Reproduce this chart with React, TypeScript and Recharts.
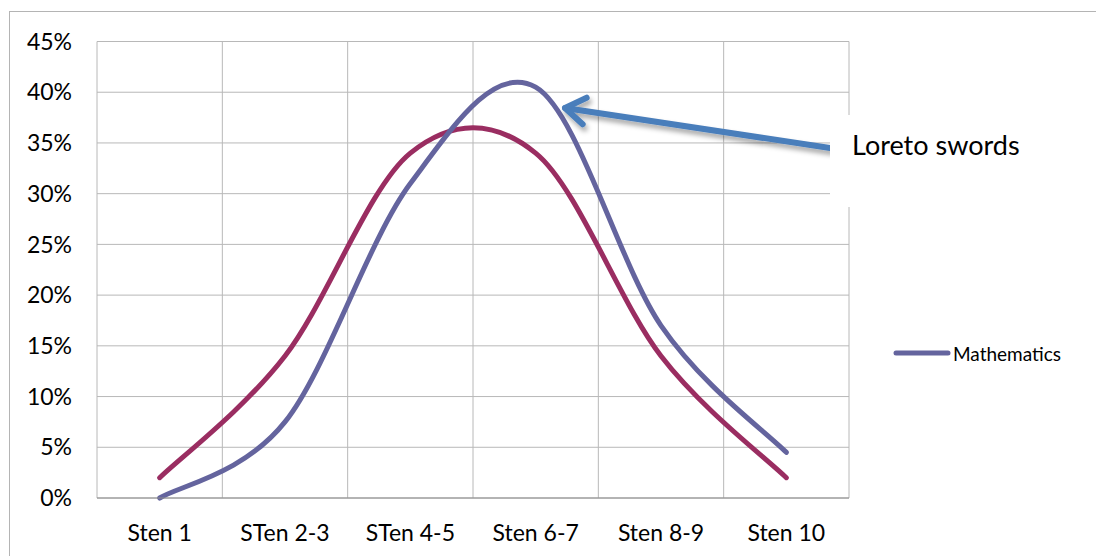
import { LineChart, Line, XAxis, YAxis, CartesianGrid, Legend } from "recharts";

// --- data ---
const categories = ["Sten 1", "STen 2-3", "STen 4-5", "Sten 6-7", "Sten 8-9", "Sten 10"];
const normValues = [2, 14, 34, 34, 14, 2];
const mathValues = [0, 7.5, 31, 40.5, 17, 4.5];
const yTicks = [0, 5, 10, 15, 20, 25, 30, 35, 40, 45];

const data = categories.map((c, i) => ({ sten: c, norm: normValues[i], math: mathValues[i] }));

const FONT = "Lato, 'Open Sans', sans-serif";
const RED = "#9a2d61";
const PURPLE = "#64649e";
const GRID = "#b8b8b8";

// excel-ish smoothing: bezier with control points at 1/6 of neighbour spread
function excelCurve(context: any) {
  let pts: number[][] = [];
  return {
    areaStart() {},
    areaEnd() {},
    lineStart() {
      pts = [];
    },
    point(x: number, y: number) {
      pts.push([+x, +y]);
    },
    lineEnd() {
      const n = pts.length;
      if (!n) return;
      context.moveTo(pts[0][0], pts[0][1]);
      for (let i = 0; i < n - 1; i++) {
        const p0 = pts[Math.max(i - 1, 0)];
        const p1 = pts[i];
        const p2 = pts[i + 1];
        const p3 = pts[Math.min(i + 2, n - 1)];
        context.bezierCurveTo(
          p1[0] + (p2[0] - p0[0]) / 6,
          p1[1] + (p2[1] - p0[1]) / 6,
          p2[0] - (p3[0] - p1[0]) / 6,
          p2[1] - (p3[1] - p1[1]) / 6,
          p2[0],
          p2[1]
        );
      }
    },
  };
}

function LegendBox(props: any) {
  const items = (props.payload || []).filter((p: any) => p.type !== "none");
  return (
    <div style={{ fontFamily: FONT }}>
      {items.map((it: any) => (
        <div key={it.value} style={{ display: "flex", alignItems: "center", height: 24 }}>
          <svg width={58} height={10}>
            <line x1={3} y1={5} x2={55} y2={5} stroke={it.color} strokeWidth={5} strokeLinecap="round" />
          </svg>
          <span style={{ fontSize: 19, color: "#000", marginLeft: 2 }}>{it.value}</span>
        </div>
      ))}
    </div>
  );
}

function Annotation() {
  const tail = [822, 140];
  const head = [557, 100];
  const ang = Math.atan2(tail[1] - head[1], tail[0] - head[0]);
  const arm = 24;
  const spread = (34 * Math.PI) / 180;
  const a1 = [head[0] + arm * Math.cos(ang - spread), head[1] + arm * Math.sin(ang - spread)];
  const a2 = [head[0] + arm * Math.cos(ang + spread), head[1] + arm * Math.sin(ang + spread)];
  return (
    <svg width={1096} height={548} style={{ position: "absolute", left: 0, top: 0, pointerEvents: "none" }}>
      <defs>
        <filter id="shadow" x="-10%" y="-50%" width="120%" height="200%">
          <feDropShadow dx="2" dy="4" stdDeviation="2.5" floodColor="#000" floodOpacity="0.35" />
        </filter>
      </defs>
      <g filter="url(#shadow)" stroke="#4a7ebb" strokeWidth={6} fill="none" strokeLinecap="round" strokeLinejoin="round">
        <line x1={tail[0]} y1={tail[1]} x2={head[0]} y2={head[1]} />
        <polyline points={`${a1[0]},${a1[1]} ${head[0]},${head[1]} ${a2[0]},${a2[1]}`} />
      </g>
      <rect x={822} y={107} width={220} height={92} fill="#fff" />
      <text x={844} y={147} fontFamily={FONT} fontSize={27} fill="#000">
        Loreto swords
      </text>
    </svg>
  );
}

export default function App() {
  return (
    <div style={{ position: "relative", width: 1096, height: 548, overflow: "hidden", background: "#fff" }}>
      <div
        style={{
          position: "absolute",
          left: 1,
          top: 3,
          width: 1300,
          height: 800,
          border: "1px solid #b4b4b4",
        }}
      />
      <LineChart
        width={1096}
        height={548}
        data={data}
        margin={{ top: 33.5, right: 255, bottom: 28, left: 29 }}
        style={{ position: "absolute", left: 0, top: 0 }}
      >
        <CartesianGrid
          stroke={GRID}
          strokeWidth={1}
          verticalCoordinatesGenerator={({ offset }: any) =>
            Array.from({ length: categories.length + 1 }, (_, i) => offset.left + (i * offset.width) / categories.length)
          }
        />
        <XAxis
          dataKey="sten"
          scale="band"
          axisLine={{ stroke: "#8c8c8c", strokeWidth: 1 }}
          tickLine={false}
          tickSize={0}
          tickMargin={27}
          height={30}
          interval={0}
          tick={{ fontFamily: FONT, fontSize: 23, fill: "#000" }}
        />
        <YAxis
          domain={[0, 45]}
          ticks={yTicks}
          width={60}
          axisLine={false}
          tickLine={false}
          tickSize={0}
          tickMargin={25}
          tickFormatter={(v: number) => `${v}%`}
          tick={{ fontFamily: FONT, fontSize: 23, fill: "#000" }}
        />
        <Legend
          layout="vertical"
          align="center"
          verticalAlign="middle"
          wrapperStyle={{ left: 885, top: 333, width: 200 }}
          content={<LegendBox />}
        />
        <Line
          dataKey="norm"
          name="Norm"
          type={excelCurve as any}
          stroke={RED}
          strokeWidth={5}
          strokeLinecap="round"
          dot={false}
          activeDot={false}
          legendType="none"
          isAnimationActive={false}
        />
        <Line
          dataKey="math"
          name="Mathematics"
          type={excelCurve as any}
          stroke={PURPLE}
          strokeWidth={5}
          strokeLinecap="round"
          dot={false}
          activeDot={false}
          isAnimationActive={false}
        />
      </LineChart>
      <Annotation />
    </div>
  );
}
